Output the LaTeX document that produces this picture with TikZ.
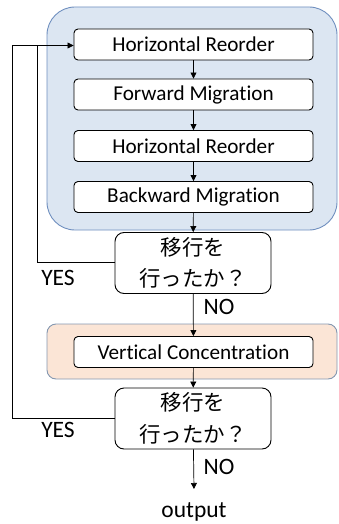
\documentclass[tikz,border=0pt]{standalone}
\usepackage{fontspec}
\setmainfont{Carlito}[Ligatures=NoCommon]
\newfontfamily\jpfont{Noto Sans CJK JP}
\usetikzlibrary{arrows.meta,positioning}
\definecolor{loopfill}{HTML}{DCE6F2}
\definecolor{loopedge}{HTML}{6F8FBF}
\definecolor{vcfill}{HTML}{FBE5D6}
\definecolor{vcedge}{HTML}{8497B0}
\tikzset{
  stepbox/.style={draw=black, fill=white, rounded corners=4pt, line width=0.9pt,
    minimum width=239pt, minimum height=31pt, inner sep=0pt,
    font=\fontsize{21.2}{24}\selectfont},
  decide/.style={draw=black, fill=white, rounded corners=9pt, line width=0.9pt,
    minimum width=156pt, minimum height=61pt, inner sep=0pt, align=center,
    font=\jpfont\fontsize{21.5}{31.5}\selectfont},
  flow/.style={line width=0.7pt, -{Triangle[length=6pt,width=6pt]}},
  wire/.style={line width=0.7pt},
  lbl/.style={inner sep=0pt, font=\fontsize{23.5}{26}\selectfont}
}
\begin{document}
\begin{tikzpicture}[x=1pt, y=-1pt]
\useasboundingbox (0,0) rectangle (338,524);
% group backgrounds
\draw[fill=loopfill, draw=loopedge, line width=0.9pt, rounded corners=28pt]
  (47,7) rectangle (337,230);
\draw[fill=vcfill, draw=vcedge, line width=0.9pt, rounded corners=9pt]
  (47,324) rectangle (337,379);
% process steps
\node[stepbox] (hr1) at (193.5,44.5) {Horizontal Reorder};
\node[stepbox] (fm)  at (193.5,94.5) {Forward Migration};
\node[stepbox] (hr2) at (193.5,146) {Horizontal Reorder};
\node[stepbox] (bm)  at (193.5,197) {Backward Migration};
\node[decide] (d1) at (193,263) {移行を\\行ったか？};
\node[stepbox] (vc) at (193.5,352) {Vertical Concentration};
\node[decide] (d2) at (193,418.5) {移行を\\行ったか？};
\node[lbl] (out) at (194,512) {output};
\coordinate (end) at (194,489);
% main flow
\draw[flow] (hr1) -- (fm);
\draw[flow] (fm) -- (hr2);
\draw[flow] (hr2) -- (bm);
\draw[flow] (bm) -- (d1);
\draw[flow] (d1) -- (vc);
\draw[flow] (vc) -- (d2);
\draw[flow] (d2) -- (end);
% feedback loops
\coordinate (in) at (74,45.5);
\draw[wire] (d1.west |- 0,262) -- (37,262) -- (37,45.5);
\draw[wire] (d2.west |- 0,418) -- (12,418) -- (12,45.5) -- (37,45.5);
\draw[flow] (37,45.5) -- (hr1.west |- in);
% branch labels
\node[lbl] (yes1) at (58,278) {YES};
\node[lbl] (no1)  at (219,307) {NO};
\node[lbl] (yes2) at (58,430) {YES};
\node[lbl] (no2)  at (219,467) {NO};
\end{tikzpicture}
\end{document}
